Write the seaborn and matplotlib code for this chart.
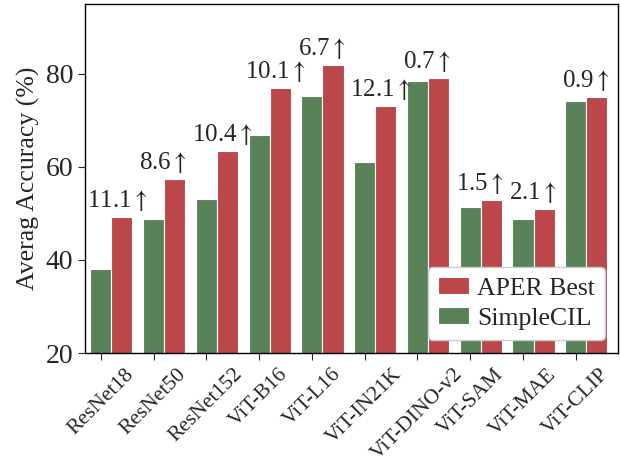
import matplotlib
matplotlib.use("Agg")
import matplotlib.pyplot as plt
import numpy as np
import pandas as pd
import seaborn as sns

# Backbones and average accuracy (%) of the two methods
models = ["ResNet18", "ResNet50", "ResNet152", "ViT-B16", "ViT-L16",
          "ViT-IN21K", "ViT-DINO-v2", "ViT-SAM", "ViT-MAE", "ViT-CLIP"]
simplecil = [38.1, 48.7, 53.0, 66.8, 75.2, 61.0, 78.4, 51.4, 48.8, 74.1]
aper_best = [49.2, 57.3, 63.4, 76.9, 81.9, 73.1, 79.1, 52.9, 50.9, 75.0]
yticks = [20, 40, 60, 80]

colors = {"SimpleCIL": "#5a8259", "APER Best": "#bb474a"}

sns.set_style("ticks")
plt.rcParams["font.family"] = ["Liberation Serif", "DejaVu Serif"]
plt.rcParams["mathtext.fontset"] = "stix"
plt.rcParams["axes.linewidth"] = 1.0

df = pd.DataFrame({
    "model": models * 2,
    "acc": simplecil + aper_best,
    "method": ["SimpleCIL"] * len(models) + ["APER Best"] * len(models),
})

fig = plt.figure(figsize=(6.21, 4.61), dpi=100)
ax = fig.add_axes([85 / 621, 1 - 353 / 461, (618 - 85) / 621, (353 - 4) / 461])

sns.barplot(data=df, x="model", y="acc", hue="method",
            hue_order=["SimpleCIL", "APER Best"], palette=colors,
            saturation=1, width=0.8, edgecolor="white", linewidth=0.8,
            errorbar=None, ax=ax)

# tick labels sit under the SimpleCIL bar of each group
pos = np.arange(len(models))
ax.set_xticks(pos - 0.2, models, rotation=45, fontsize=15.5)
ax.set_xlim(-0.5, 9.6)
ax.set_ylim(20, 95)
ax.set_yticks(yticks)
ax.tick_params(axis="y", labelsize=20, length=5)
ax.tick_params(axis="x", length=5)
ax.set_xlabel("")
ax.set_ylabel("Averag Accuracy (%)", fontsize=18.5)
for sp in ax.spines.values():
    sp.set_color("black")
    sp.set_visible(True)

# improvement of APER over SimpleCIL
for i, (s, a) in enumerate(zip(simplecil, aper_best)):
    ax.text(i - 0.47, a + 2.2, f"{a - s:.1f}" + r"$\uparrow$", ha="left",
            va="baseline", fontsize=18)

handles, labels = ax.get_legend_handles_labels()
ax.legend(handles[::-1], labels[::-1], loc="lower right", fontsize=18.5,
          handlelength=1.2, handleheight=0.65, handletextpad=0.3,
          labelspacing=0.3, framealpha=1, title=None)

fig.savefig("out.png", dpi=100)
